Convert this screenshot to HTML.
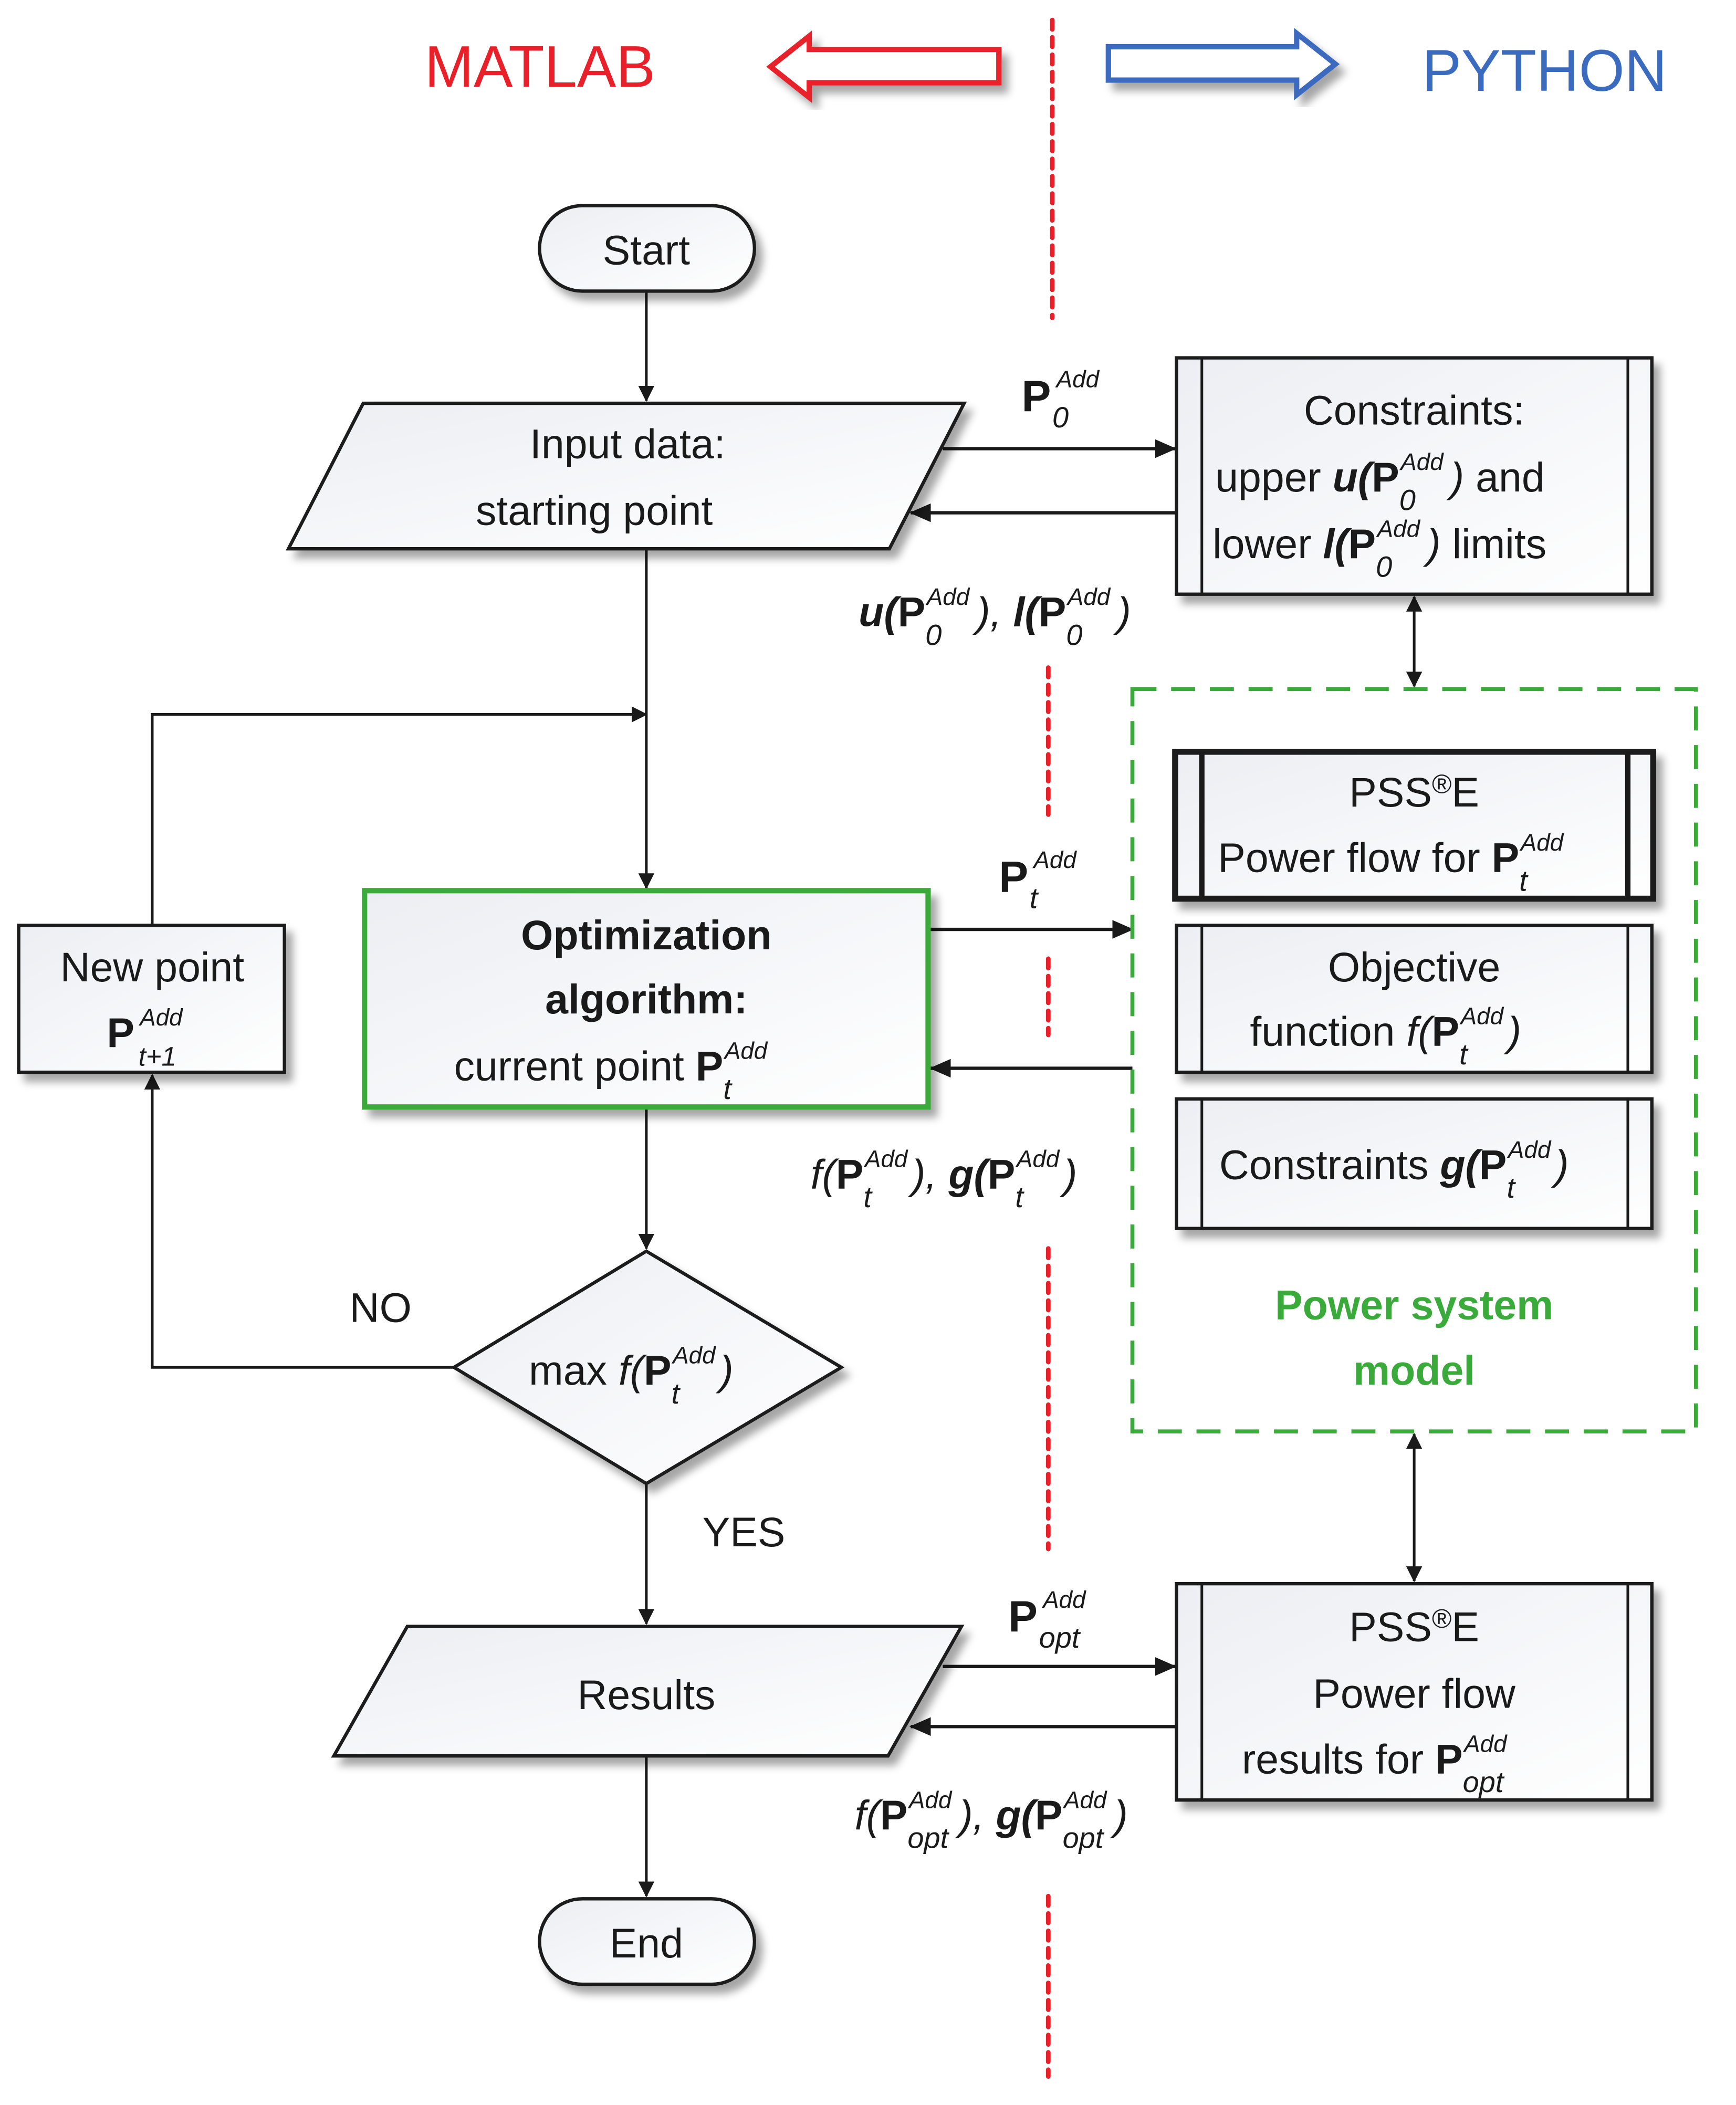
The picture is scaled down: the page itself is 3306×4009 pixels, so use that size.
<!DOCTYPE html>
<html><head><meta charset="utf-8"><style>
html,body{margin:0;padding:0;background:#fff;}
svg{display:block;}
text{font-family:"Liberation Sans",sans-serif;fill:#1a1a1a;font-size:31px;}
.t{text-anchor:middle;}
.b{font-weight:bold;}
.i{font-style:italic;}
.n{font-style:normal;}
.sup{font-size:18px;font-style:italic;font-weight:normal;}
.sub{font-size:22px;font-style:italic;font-weight:normal;}
</style></head><body>
<svg width="3306" height="4009" viewBox="0 0 1300 1576.4" preserveAspectRatio="none" xmlns="http://www.w3.org/2000/svg">
<defs>
<linearGradient id="g" x1="0" y1="0" x2="1" y2="1"><stop offset="0" stop-color="#eceef3"/><stop offset="1" stop-color="#ffffff"/></linearGradient>
<filter id="sh" x="-10%" y="-10%" width="130%" height="130%"><feDropShadow dx="5" dy="6" stdDeviation="3" flood-color="#000" flood-opacity="0.35"/></filter>
<marker id="ar" markerWidth="12" markerHeight="12" refX="11" refY="6" orient="auto-start-reverse" markerUnits="userSpaceOnUse"><path d="M0,0 L12,6 L0,12 Z" fill="#1a1a1a"/></marker>
<marker id="arb" markerWidth="16" markerHeight="14" refX="15" refY="7" orient="auto" markerUnits="userSpaceOnUse"><path d="M0,0 L16,7 L0,14 Z" fill="#1a1a1a"/></marker>
</defs>

<text x="318" y="65" style="font-size:44px;fill:#e8202a">MATLAB</text>
<path d="M577,50 L606,27 L606,37 L748,37 L748,62 L606,62 L606,73 Z" fill="#fff" stroke="#e8202a" stroke-width="4" filter="url(#sh)"/>
<path d="M1000,48 L971,25 L971,35 L830,35 L830,60 L971,60 L971,71 Z" fill="#fff" stroke="#3b6bbf" stroke-width="4" filter="url(#sh)"/>
<text x="1065" y="68" style="font-size:44px;fill:#3b6bbf">PYTHON</text>

<g stroke="#e8202a" stroke-width="3.5" stroke-dasharray="7 6" stroke-linecap="round">
<line x1="788" y1="15" x2="788" y2="238"/>
<line x1="785" y1="500" x2="785" y2="610"/>
<line x1="785" y1="718" x2="785" y2="775"/>
<line x1="785" y1="935" x2="785" y2="1160"/>
<line x1="785" y1="1420" x2="785" y2="1555"/>
</g>

<g stroke="#1a1a1a" stroke-width="2" fill="none">
<line x1="484" y1="218" x2="484" y2="300" marker-end="url(#ar)"/>
<line x1="484" y1="411" x2="484" y2="665" marker-end="url(#ar)"/>
<polyline points="114,692 114,535 484,535" marker-end="url(#ar)"/>
<line x1="484" y1="829" x2="484" y2="935" marker-end="url(#ar)"/>
<polyline points="340,1024 114,1024 114,805" marker-end="url(#ar)"/>
<line x1="484" y1="1111" x2="484" y2="1216" marker-end="url(#ar)"/>
<line x1="484" y1="1315" x2="484" y2="1420" marker-end="url(#ar)"/>
<line x1="1059" y1="447" x2="1059" y2="514" marker-start="url(#ar)" marker-end="url(#ar)"/>
<line x1="1059" y1="1074" x2="1059" y2="1184" marker-start="url(#ar)" marker-end="url(#ar)"/>
</g>
<g stroke="#1a1a1a" stroke-width="2.5" fill="none">
<line x1="706" y1="336" x2="880" y2="336" marker-end="url(#arb)"/>
<line x1="880" y1="384" x2="682" y2="384" marker-end="url(#arb)"/>
<line x1="695" y1="696" x2="848" y2="696" marker-end="url(#arb)"/>
<line x1="848" y1="800" x2="697" y2="800" marker-end="url(#arb)"/>
<line x1="706" y1="1248" x2="880" y2="1248" marker-end="url(#arb)"/>
<line x1="880" y1="1293" x2="682" y2="1293" marker-end="url(#arb)"/>
</g>

<g stroke="#1a1a1a" stroke-width="2.5" fill="url(#g)" filter="url(#sh)">
<rect x="404" y="154" width="161" height="64" rx="32"/>
<path d="M272,302 L722,302 L666,411 L216,411 Z"/>
<rect x="881" y="268" width="356" height="177"/>
<rect x="881" y="693" width="356" height="110"/>
<rect x="881" y="823" width="356" height="97"/>
<rect x="14" y="693" width="199" height="110"/>
<path d="M484,937 L630,1024 L484,1111 L340,1024 Z"/>
<path d="M305,1218 L720,1218 L665,1315 L250,1315 Z"/>
<rect x="881" y="1186" width="356" height="162"/>
<rect x="404" y="1422" width="161" height="64" rx="32"/>
</g>
<rect x="880" y="563" width="358" height="110" fill="url(#g)" stroke="#1a1a1a" stroke-width="4.5" filter="url(#sh)"/>
<rect x="273" y="667" width="422" height="162" fill="url(#g)" stroke="#3aaa3a" stroke-width="4" filter="url(#sh)"/>
<g stroke="#1a1a1a" stroke-width="2">
<line x1="900" y1="268" x2="900" y2="445"/><line x1="1219" y1="268" x2="1219" y2="445"/>
<line x1="900" y1="563" x2="900" y2="673" stroke-width="4"/><line x1="1219" y1="563" x2="1219" y2="673" stroke-width="4"/>
<line x1="900" y1="693" x2="900" y2="803"/><line x1="1219" y1="693" x2="1219" y2="803"/>
<line x1="900" y1="823" x2="900" y2="920"/><line x1="1219" y1="823" x2="1219" y2="920"/>
<line x1="900" y1="1186" x2="900" y2="1348"/><line x1="1219" y1="1186" x2="1219" y2="1348"/>
</g>
<rect x="848" y="516" width="422" height="556" fill="none" stroke="#3aaa3a" stroke-width="3" stroke-dasharray="18 11"/>

<text class="t" x="484" y="198">Start</text>
<text class="t" x="470" y="343">Input data:</text>
<text class="t" x="445" y="393">starting point</text>

<text class="t" x="1059" y="318">Constraints:</text>
<text x="910" y="368">upper <tspan class="b i">u(</tspan><tspan class="b">P</tspan><tspan class="sup" dy="-16" dx="1">Add</tspan><tspan class="sub" dx="-33" dy="30">0</tspan><tspan class="i" dx="26" dy="-14">)</tspan> and</text>
<text x="908" y="418">lower <tspan class="b i">l(</tspan><tspan class="b">P</tspan><tspan class="sup" dy="-16" dx="1">Add</tspan><tspan class="sub" dx="-33" dy="30">0</tspan><tspan class="i" dx="26" dy="-14">)</tspan> limits</text>

<text class="t" x="1059" y="604">PSS<tspan style="font-size:20px" dy="-10">®</tspan><tspan dy="10">E</tspan></text>
<text x="912" y="653">Power flow for <tspan class="b">P</tspan><tspan class="sup" dy="-16" dx="1">Add</tspan><tspan class="sub" dx="-33" dy="30">t</tspan></text>

<text class="t" x="1059" y="735">Objective</text>
<text x="936" y="783">function <tspan class="i">f(</tspan><tspan class="b">P</tspan><tspan class="sup" dy="-16" dx="1">Add</tspan><tspan class="sub" dx="-33" dy="30">t</tspan><tspan class="i" dx="30" dy="-14">)</tspan></text>

<text x="913" y="883">Constraints <tspan class="b i">g(</tspan><tspan class="b">P</tspan><tspan class="sup" dy="-16" dx="1">Add</tspan><tspan class="sub" dx="-33" dy="30">t</tspan><tspan class="i" dx="30" dy="-14">)</tspan></text>

<text class="t b" x="1059" y="988" style="fill:#3aaa3a">Power system</text>
<text class="t b" x="1059" y="1037" style="fill:#3aaa3a">model</text>

<text class="t b" x="484" y="711">Optimization</text>
<text class="t b" x="484" y="759">algorithm:</text>
<text x="340" y="809">current point  <tspan class="b">P</tspan><tspan class="sup" dy="-16" dx="1">Add</tspan><tspan class="sub" dx="-33" dy="30">t</tspan></text>

<text class="t" x="114" y="735">New point</text>
<text x="80" y="784"><tspan class="b">P</tspan><tspan class="sup" dy="-16" dx="4">Add</tspan><tspan class="sub" dx="-33" dy="30" style="font-size:20px">t+1</tspan></text>

<text x="396" y="1037">max <tspan class="i">f(</tspan><tspan class="b">P</tspan><tspan class="sup" dy="-16" dx="1">Add</tspan><tspan class="sub" dx="-33" dy="30">t</tspan><tspan class="i" dx="30" dy="-14">)</tspan></text>

<text class="t" x="285" y="990">NO</text>
<text class="t" x="557" y="1158">YES</text>
<text class="t" x="484" y="1280">Results</text>

<text class="t" x="1059" y="1229">PSS<tspan style="font-size:20px" dy="-10">®</tspan><tspan dy="10">E</tspan></text>
<text class="t" x="1059" y="1279">Power flow</text>
<text x="930" y="1328">results for  <tspan class="b">P</tspan><tspan class="sup" dy="-16" dx="1">Add</tspan><tspan class="sub" dx="-33" dy="30">opt</tspan></text>

<text class="t" x="484" y="1466">End</text>

<text x="765" y="308" style="font-size:33px"><tspan class="b">P</tspan><tspan class="sup" dy="-18" dx="4">Add</tspan><tspan class="sub" dx="-35" dy="30">0</tspan></text>

<text x="643" y="469" class="b i">u(<tspan class="n">P</tspan><tspan class="sup" dy="-16" dx="1">Add</tspan><tspan class="sub" dx="-33" dy="30">0</tspan><tspan dx="26" dy="-14" font-weight="normal">), </tspan>l(<tspan class="n">P</tspan><tspan class="sup" dy="-16" dx="1">Add</tspan><tspan class="sub" dx="-33" dy="30">0</tspan><tspan dx="26" dy="-14" font-weight="normal">)</tspan></text>

<text x="748" y="668" style="font-size:33px"><tspan class="b">P</tspan><tspan class="sup" dy="-18" dx="4">Add</tspan><tspan class="sub" dx="-35" dy="30">t</tspan></text>

<text x="607" y="890" class="i">f(<tspan class="b n">P</tspan><tspan class="sup" dy="-16" dx="1">Add</tspan><tspan class="sub" dx="-33" dy="30">t</tspan><tspan dx="30" dy="-14">), </tspan><tspan class="b">g(</tspan><tspan class="b n">P</tspan><tspan class="sup" dy="-16" dx="1">Add</tspan><tspan class="sub" dx="-33" dy="30">t</tspan><tspan dx="30" dy="-14">)</tspan></text>

<text x="755" y="1222" style="font-size:33px"><tspan class="b">P</tspan><tspan class="sup" dy="-18" dx="4">Add</tspan><tspan class="sub" dx="-35" dy="30">opt</tspan></text>

<text x="640" y="1370" class="i">f(<tspan class="b n">P</tspan><tspan class="sup" dy="-16" dx="1">Add</tspan><tspan class="sub" dx="-33" dy="30">opt</tspan><tspan dx="8" dy="-14">), </tspan><tspan class="b">g(</tspan><tspan class="b n">P</tspan><tspan class="sup" dy="-16" dx="1">Add</tspan><tspan class="sub" dx="-33" dy="30">opt</tspan><tspan dx="8" dy="-14">)</tspan></text>
</svg>
</body></html>
